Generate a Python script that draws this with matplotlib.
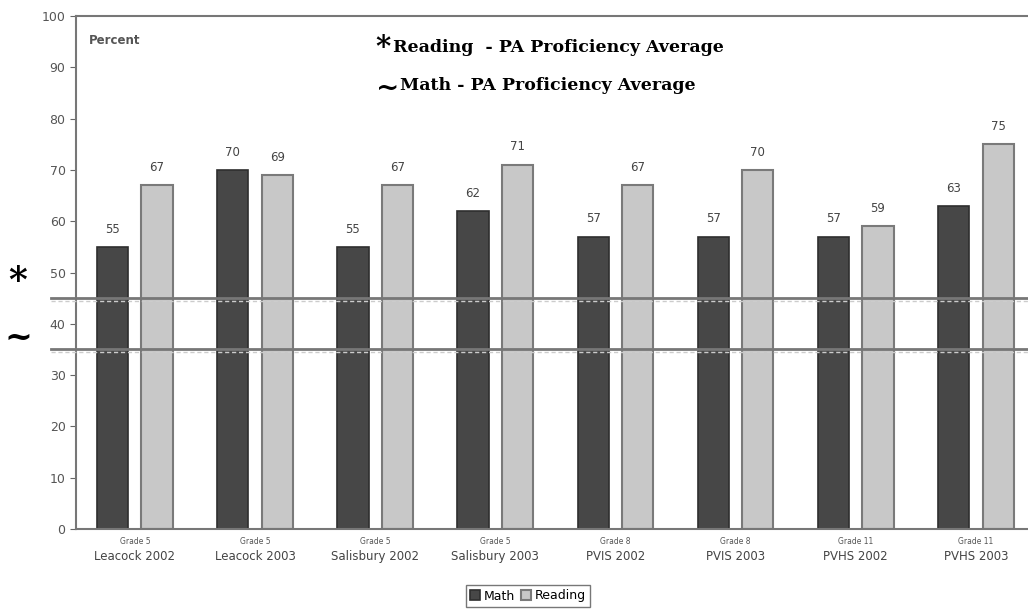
import matplotlib.pyplot as plt
import matplotlib.transforms as mtransforms
import numpy as np

schools = ['Leacock 2002', 'Leacock 2003', 'Salisbury 2002', 'Salisbury 2003',
           'PVIS 2002', 'PVIS 2003', 'PVHS 2002', 'PVHS 2003']
grades = ['Grade 5', 'Grade 5', 'Grade 5', 'Grade 5',
          'Grade 8', 'Grade 8', 'Grade 11', 'Grade 11']
math = [55, 70, 55, 62, 57, 57, 57, 63]
reading = [67, 69, 67, 71, 67, 70, 59, 75]
reading_avg = 45
math_avg = 35

fig = plt.figure(figsize=(10.28, 6.10), dpi=100)
ax = fig.add_axes([76 / 1028, 81 / 610, 960 / 1028, 513 / 610])

x = np.arange(len(schools))
w = 0.26
off = 0.185
b1 = ax.bar(x - off, math, w, color='#474747', edgecolor='#2e2e2e', linewidth=1.2, label='Math')
b2 = ax.bar(x + off, reading, w, color='#c8c8c8', edgecolor='#7a7a7a', linewidth=1.5, label='Reading')

for rect, v in list(zip(b1, math)) + list(zip(b2, reading)):
    ax.text(rect.get_x() + rect.get_width() / 2, v + 2.2, str(v),
            ha='center', va='bottom', fontsize=8.5, color='#444444')

ax.set_xlim(-0.49, 7.5)
ax.set_ylim(0, 100)
ax.set_yticks(range(0, 101, 10))
ax.tick_params(axis='y', colors='#666666', labelcolor='#555555', labelsize=9, length=4, direction='out')
ax.tick_params(axis='x', length=0, pad=3)
ax.set_xticks(x)
ax.set_xticklabels([''] * len(x))
for i in x:
    ax.text(i, -1.6, grades[i], ha='center', va='top', fontsize=5.5, color='#555555')
    ax.text(i, -4.0, schools[i], ha='center', va='top', fontsize=8.5, color='#444444')

for s in ['left', 'bottom', 'top']:
    ax.spines[s].set_color('#777777')
    ax.spines[s].set_linewidth(1.5)
ax.spines['right'].set_visible(False)

ax.text(0.013, 0.965, 'Percent', transform=ax.transAxes, fontsize=8.5,
        fontweight='bold', color='#555555', va='top')

# proficiency average lines across the whole figure
tr = mtransforms.blended_transform_factory(fig.transFigure, ax.transData)
for yv in [reading_avg, math_avg]:
    ax.plot([0.05, 1], [yv, yv], transform=tr, color='#777777', lw=2, clip_on=False, zorder=5)
    ax.plot([0.05, 1], [yv - 0.55, yv - 0.55], transform=tr, color='#cccccc', lw=1,
            ls=(0, (3, 2)), clip_on=False, zorder=5)

fig.text(18 / 1028, 1 - 281 / 610, '*', fontsize=26, fontweight='bold', ha='center',
         va='center', family='DejaVu Serif')
fig.text(18 / 1028, 1 - 338 / 610, '~', fontsize=24, fontweight='bold', ha='center',
         va='center', family='DejaVu Serif')

# title lines with large symbols
fig.text(391 / 1028, 1 - 48 / 610, '*', fontsize=21, fontweight='bold', ha='right',
         va='center', family='DejaVu Serif')
fig.text(393 / 1028, 1 - 47 / 610, 'Reading  - PA Proficiency Average', fontsize=12.5,
         fontweight='bold', ha='left', va='center', family='DejaVu Serif')
fig.text(399 / 1028, 1 - 88 / 610, '~', fontsize=20, fontweight='bold', ha='right',
         va='center', family='DejaVu Serif')
fig.text(400 / 1028, 1 - 86 / 610, 'Math - PA Proficiency Average', fontsize=12.5,
         fontweight='bold', ha='left', va='center', family='DejaVu Serif')

fig.legend(handles=[b1, b2], loc='center', bbox_to_anchor=(528 / 1028, 1 - 596 / 610),
           ncol=2, fontsize=9, frameon=True, fancybox=False, edgecolor='#555555',
           handlelength=0.8, handleheight=0.8, handletextpad=0.3, columnspacing=0.5,
           borderpad=0.35)

fig.savefig('out.png', dpi=100)
